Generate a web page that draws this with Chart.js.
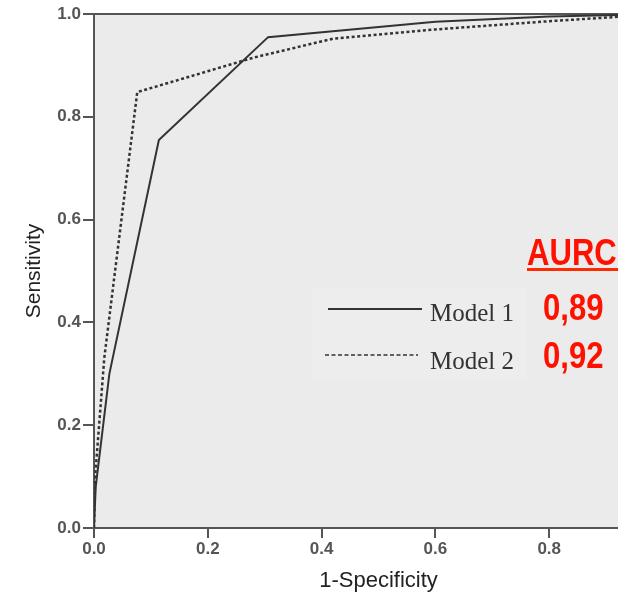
<!DOCTYPE html>
<html>
<head>
<meta charset="utf-8">
<script src="https://cdn.jsdelivr.net/npm/chart.js@4/dist/chart.umd.min.js"></script>
<style>
  html, body { margin: 0; padding: 0; background: #fff; overflow: hidden; }
  #wrap { position: absolute; left: 0; top: 0; width: 680px; height: 595px; }
</style>
</head>
<body>
<div id="wrap"><canvas id="rocChart"></canvas></div>
<script>
/* ====== DATA ====== */
// ROC points (1-specificity, sensitivity)
const model1X = [0, 0.003, 0.027, 0.114, 0.306, 0.6, 0.8, 1];
const model1Y = [0, 0.08, 0.30, 0.755, 0.955, 0.985, 0.995, 1];
const model2X = [0, 0.002, 0.018, 0.076, 0.28, 0.42, 0.6, 0.8, 1];
const model2Y = [0, 0.10, 0.33, 0.848, 0.915, 0.952, 0.97, 0.986, 1];

const seriesNames = ['Model 1', 'Model 2'];
const aurcTitle = 'AURC';
const aurcValues = ['0,89', '0,92'];
const axisTicks = [0, 0.2, 0.4, 0.6, 0.8, 1.0];

const toPoints = (xs, ys) => xs.map((x, i) => ({ x: x, y: ys[i] }));

/* ====== PLOT BACKGROUND + FRAME ====== */
const plotFrame = {
    id: 'plotFrame',
    beforeDraw(chart) {
        const { ctx, chartArea: a } = chart;
        ctx.save();
        ctx.fillStyle = '#ebebeb';
        ctx.fillRect(a.left, a.top, a.right - a.left, a.bottom - a.top);
        // top border line
        ctx.strokeStyle = '#555';
        ctx.lineWidth = 2;
        ctx.beginPath();
        ctx.moveTo(a.left, a.top);
        ctx.lineTo(a.right, a.top);
        ctx.stroke();
        // faintly lighter legend patch
        ctx.fillStyle = '#ededed';
        ctx.fillRect(312, 287, 214, 92);
        ctx.restore();
    }
};

/* ====== LEGEND + AURC LABELS ====== */
const legendBox = {
    id: 'legendBox',
    afterDraw(chart) {
        const { ctx } = chart;
        const rows = [
            { y: 309, x0: 328, x1: 422, dash: [], ty: 321, vy: 320 },
            { y: 355, x0: 325, x1: 418, dash: [4, 2.5], ty: 369, vy: 368 }
        ];
        ctx.save();
        rows.forEach((r, i) => {
            ctx.strokeStyle = '#333';
            ctx.lineWidth = i === 0 ? 2.2 : 1.6;
            ctx.setLineDash(r.dash);
            ctx.beginPath();
            ctx.moveTo(r.x0, r.y);
            ctx.lineTo(r.x1, r.y);
            ctx.stroke();
            ctx.setLineDash([]);

            ctx.fillStyle = '#333';
            ctx.font = '25px "Liberation Serif", serif';
            ctx.textAlign = 'left';
            ctx.textBaseline = 'alphabetic';
            ctx.fillText(seriesNames[i], 430, r.ty);

            // red AURC value, condensed bold
            ctx.save();
            ctx.fillStyle = '#ff1100';
            ctx.font = 'bold 37px "Liberation Sans", Arial, sans-serif';
            ctx.translate(543, r.vy);
            ctx.scale(0.84, 1);
            ctx.fillText(aurcValues[i], 0, 0);
            ctx.restore();
        });

        ctx.save();
        ctx.fillStyle = '#ff1100';
        ctx.font = 'bold 37px "Liberation Sans", Arial, sans-serif';
        ctx.translate(527, 265);
        ctx.scale(0.84, 1);
        ctx.fillText(aurcTitle, 0, 0);
        ctx.restore();
        ctx.fillStyle = '#ff2a00';
        ctx.fillRect(527, 268, 160, 3);
        ctx.restore();
    }
};

/* ====== CHART ====== */
const tickFont = { family: '"Liberation Sans", Arial, sans-serif', size: 17, weight: 'bold' };

new Chart(document.getElementById('rocChart'), {
    type: 'scatter',
    data: {
        datasets: [
            {
                label: seriesNames[0],
                data: toPoints(model1X, model1Y),
                showLine: true,
                borderColor: '#333',
                borderWidth: 2,
                pointRadius: 0,
                tension: 0
            },
            {
                label: seriesNames[1],
                data: toPoints(model2X, model2Y),
                showLine: true,
                borderColor: '#333',
                borderWidth: 2.5,
                borderDash: [3, 2.5],
                pointRadius: 0,
                tension: 0
            }
        ]
    },
    options: {
        responsive: true,
        maintainAspectRatio: false,
        animation: false,
        layout: { padding: { top: 14, right: 17, left: 0, bottom: 0 } },
        plugins: {
            legend: { display: false },
            tooltip: { enabled: false }
        },
        scales: {
            x: {
                type: 'linear',
                min: 0, max: 1,
                afterFit: s => { s.height = 67; },
                afterBuildTicks: s => { s.ticks = axisTicks.map(v => ({ value: v })); },
                border: { color: '#555', width: 2 },
                grid: { drawOnChartArea: false, color: '#555', lineWidth: 2, tickLength: 10 },
                ticks: {
                    font: tickFont, color: '#555', padding: 1, maxRotation: 0,
                    callback: v => v === 1 ? '' : v.toFixed(1)
                },
                title: {
                    display: true, text: '1-Specificity', color: '#222',
                    font: { family: '"Liberation Sans", Arial, sans-serif', size: 22 },
                    padding: { top: 0, bottom: 1 }
                }
            },
            y: {
                type: 'linear',
                min: 0, max: 1,
                afterFit: s => { s.width = 94; },
                afterBuildTicks: s => { s.ticks = axisTicks.map(v => ({ value: v })); },
                border: { color: '#555', width: 2 },
                grid: { drawOnChartArea: false, color: '#555', lineWidth: 2, tickLength: 11 },
                ticks: {
                    font: tickFont, color: '#555', padding: 2,
                    callback: v => v.toFixed(1)
                },
                title: {
                    display: true, text: 'Sensitivity', color: '#222',
                    font: { family: '"Liberation Sans", Arial, sans-serif', size: 21 },
                    padding: { top: 22, bottom: 0 }
                }
            }
        }
    },
    plugins: [plotFrame, legendBox]
});
</script>
</body>
</html>
